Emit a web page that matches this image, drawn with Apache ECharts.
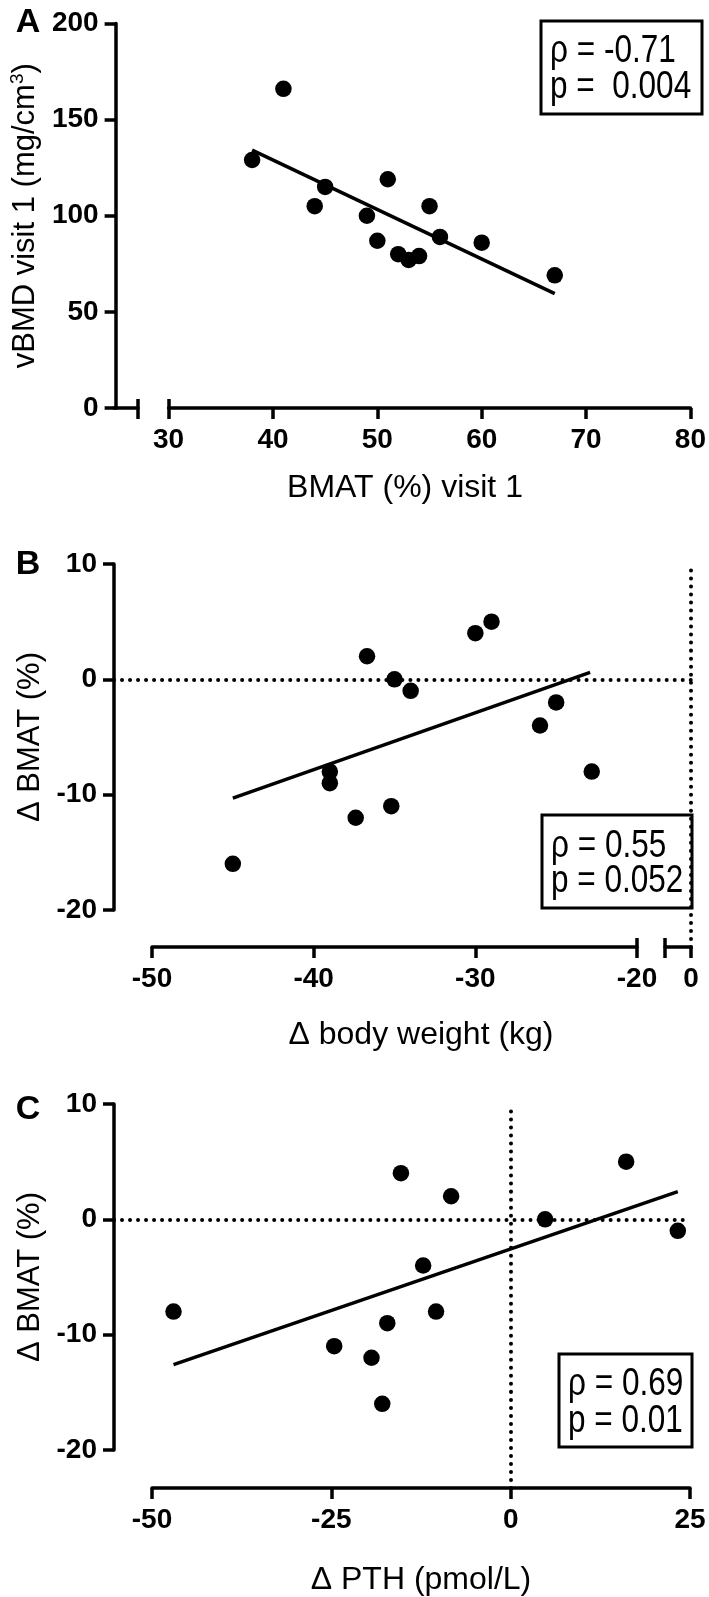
<!DOCTYPE html>
<html><head><meta charset="utf-8">
<script src="https://cdn.jsdelivr.net/npm/echarts@6/dist/echarts.min.js"></script>
<style>html,body{margin:0;padding:0;background:#fff}#c{width:709px;height:1597px}</style>
</head><body><div id="c"></div><script>
// ---- Panel A data ----
const bmatVisit1 = [38, 41, 44, 45, 49, 50, 51, 52, 53, 54, 55, 56, 60, 67];
const vbmdVisit1 = [129, 166, 105, 115, 100, 87, 119, 80, 77, 79, 105, 89, 86, 69];
const fitAx = [38, 67];
const fitAy = [134.1, 59.5];
const statsA = ['ρ = -0.71', 'p =  0.004'];
// ---- Panel B data ----
const dBodyWeight = [-45, -39, -39, -37.4, -36.7, -35.2, -35, -34, -30, -29, -26, -25, -22.8];
const dBmatB = [-16, -8, -9, -12, 2, -11, 0, -1, 4, 5, -4, -2, -8];
const fitBx = [-45, -22.9];
const fitBy = [-10.3, 0.6];
const statsB = ['ρ = 0.55', 'p = 0.052'];
// ---- Panel C data ----
const dPTH = [-47, -24.6, -19.4, -17.9, -17.2, -15.3, -12.2, -10.4, -8.3, 4.8, 16.1, 23.3];
const dBmatC = [-8, -11, -12, -16, -9, 4, -4, -8, 2, 0, 5, -1];
const fitCx = [-47, 23.3];
const fitCy = [-12.6, 2.4];
const statsC = ['ρ = 0.69', 'p = 0.01'];
// tick values [min, max, interval]
const ticksAx = [30, 80, 10], ticksAy = [0, 200, 50];
const ticksBx = [-50, -20, 10], ticksBy = [-20, 10, 10];
const ticksCx = [-50, 25, 25], ticksCy = [-20, 10, 10];

const F = '"Liberation Sans", Arial, sans-serif';
const statsFont = '38px ' + F;   // condensed with scaleX below

const K = '#000';
const LW = 3.5;
const zip = (a, b) => a.map((v, i) => [v, b[i]]);

function mainX(g, t, offset, name, gap, pad) {
  return {gridIndex: g, type: 'value', min: t[0], max: t[1], interval: t[2], position: 'bottom', offset,
    axisLine: {show: true, onZero: false, lineStyle: {color: K, width: LW}},
    axisTick: {show: true, length: 11, lineStyle: {color: K, width: LW}},
    axisLabel: {show: true, color: K, fontFamily: F, fontWeight: 'bold', fontSize: 28, margin: 18},
    splitLine: {show: false},
    name, nameLocation: 'middle', nameGap: gap,
    nameTextStyle: {color: K, fontFamily: F, fontSize: 32, padding: pad}};
}
function capX(g, min, max, offset, vals, inside) {
  return {gridIndex: g, type: 'value', min, max, position: 'bottom', offset,
    axisLine: {show: false, onZero: false}, splitLine: {show: false}, axisLabel: {show: false},
    axisTick: {show: true, inside, length: inside ? 9 : 11, customValues: vals, lineStyle: {color: K, width: LW}}};
}
function mainY(g, t, offset, name, gap) {
  return {gridIndex: g, type: 'value', min: t[0], max: t[1], interval: t[2], position: 'left', offset,
    axisLine: {show: true, onZero: false, lineStyle: {color: K, width: LW}},
    axisTick: {show: true, length: 11, lineStyle: {color: K, width: LW}},
    axisLabel: {show: true, color: K, fontFamily: F, fontWeight: 'bold', fontSize: 28, margin: 17},
    splitLine: {show: false},
    name, nameLocation: 'middle', nameGap: gap, nameRotate: 90,
    nameTextStyle: {color: K, fontFamily: F, fontSize: 31,
      rich: {a: {fontFamily: F, fontSize: 31, color: K}, s: {fontFamily: F, fontSize: 19, color: K, padding: [0, 0, 16, 0]}}}};
}
const hidden = (g, min, max) => ({gridIndex: g, type: 'value', min, max, show: false});
const dotted = {color: K, width: 4, type: [0.01, 8], cap: 'round'};
function refSeries(xi, yi, spec) {
  return {type: 'scatter', xAxisIndex: xi, yAxisIndex: yi, data: [], z: 1, silent: true,
    markLine: {silent: true, symbol: ['none', 'none'], label: {show: false}, animation: false,
      lineStyle: dotted, emphasis: {disabled: true}, data: [spec]}};
}
const scat = (xi, yi, xs, ys) => ({type: 'scatter', xAxisIndex: xi, yAxisIndex: yi, data: zip(xs, ys),
  symbolSize: 16.5, itemStyle: {color: K, opacity: 1}, z: 5, silent: true});
const fit = (xi, yi, xs, ys) => ({type: 'line', xAxisIndex: xi, yAxisIndex: yi, data: zip(xs, ys),
  symbol: 'none', lineStyle: {color: K, width: LW}, z: 4, silent: true});

function box(x, y, w, h, lines, tx, ty1, ty2) {
  const txt = (s, ty) => ({type: 'text', x: tx, y: ty, scaleX: 0.83,
    style: {text: s, font: statsFont, fill: K, verticalAlign: 'middle'}, z: 10});
  return [
    {type: 'rect', shape: {x, y, width: w, height: h}, style: {fill: 'none', stroke: K, lineWidth: 3}, z: 10},
    txt(lines[0], ty1), txt(lines[1], ty2)
  ];
}
const letter = (t, y) => ({type: 'text', x: 28, y, style: {text: t, font: 'bold 34px ' + F, fill: K, align: 'center', verticalAlign: 'middle'}});

const option = {
  animation: false,
  backgroundColor: '#fff',
  grid: [
    {left: 167, top: 23.5, width: 525, height: 384.5},   // 0 A main
    {left: 114, top: 23.5, width: 24, height: 384.5},    // 1 A stub
    {left: 152, top: 564, width: 485, height: 346},      // 2 B main
    {left: 665, top: 564, width: 26, height: 383},       // 3 B break
    {left: 114, top: 564, width: 577, height: 346},      // 4 B ref horizontal
    {left: 152, top: 1104, width: 538, height: 346},     // 5 C main
    {left: 152, top: 1104, width: 538, height: 384},     // 6 C ref vertical
    {left: 114, top: 1104, width: 576, height: 346}      // 7 C ref horizontal
  ],
  xAxis: [
    mainX(0, ticksAx, 0, 'BMAT (%) visit 1', 64, [0, 49, 0, 0]),            // 0
    capX(0, ticksAx[0], ticksAx[1], 0, [ticksAx[0]], true),                   // 1
    Object.assign(capX(1, 0, 1, 0, [1], false), {axisLine: {show: true, onZero: false, lineStyle: {color: K, width: LW}}}), // 2
    capX(1, 0, 1, 0, [1], true),                                              // 3
    mainX(2, ticksBx, 37, 'Δ body weight (kg)', 72, [0, 0, 0, 53]),          // 4
    capX(2, ticksBx[0], ticksBx[1], 37, [ticksBx[1]], true),                  // 5
    Object.assign(capX(3, -1, 0, 0, [-1, 0], false), {
      axisLine: {show: true, onZero: false, lineStyle: {color: K, width: LW}},
      axisLabel: {show: true, customValues: [0], color: K, fontFamily: F, fontWeight: 'bold', fontSize: 28, margin: 18}}), // 6
    capX(3, -1, 0, 0, [-1], true),                                            // 7
    hidden(4, -1, 0),                                                         // 8
    mainX(5, ticksCx, 38, 'Δ PTH (pmol/L)', 76, [0, 0, 0, 0]),               // 9
    hidden(6, ticksCx[0], ticksCx[1]),                                        // 10
    hidden(7, 0, 1)                                                           // 11
  ],
  yAxis: [
    mainY(0, ticksAy, 53, '{a|vBMD visit 1 (mg/cm}{s|3}{a|)}', 64),          // 0
    hidden(1, ticksAy[0], ticksAy[1]),                                        // 1
    mainY(2, ticksBy, 38, 'Δ BMAT (%)', 64),                                  // 2
    hidden(3, ticksBy[0], ticksBy[1]),                                        // 3
    hidden(4, ticksBy[0], ticksBy[1]),                                        // 4
    mainY(5, ticksCy, 38, 'Δ BMAT (%)', 64),                                  // 5
    hidden(6, ticksCy[0], ticksCy[1]),                                        // 6
    hidden(7, ticksCy[0], ticksCy[1])                                         // 7
  ],
  series: [
    fit(0, 0, fitAx, fitAy),
    scat(0, 0, bmatVisit1, vbmdVisit1),
    refSeries(6, 3, {xAxis: 0}),
    refSeries(8, 4, {yAxis: 0}),
    fit(4, 2, fitBx, fitBy),
    scat(4, 2, dBodyWeight, dBmatB),
    refSeries(10, 6, {xAxis: 0}),
    refSeries(11, 7, {yAxis: 0}),
    fit(9, 5, fitCx, fitCy),
    scat(9, 5, dPTH, dBmatC)
  ],
  graphic: [
    letter('A', 23), letter('B', 565), letter('C', 1110),
    ...box(541, 21, 161, 93, statsA, 550, 52, 88),
    ...box(542, 815, 150, 93, statsB, 551, 847, 882),
    ...box(559, 1354, 133, 93, statsC, 568, 1385, 1422)
  ]
};
const chart = echarts.init(document.getElementById('c'), null, {renderer: 'canvas'});
chart.setOption(option);
</script></body></html>
